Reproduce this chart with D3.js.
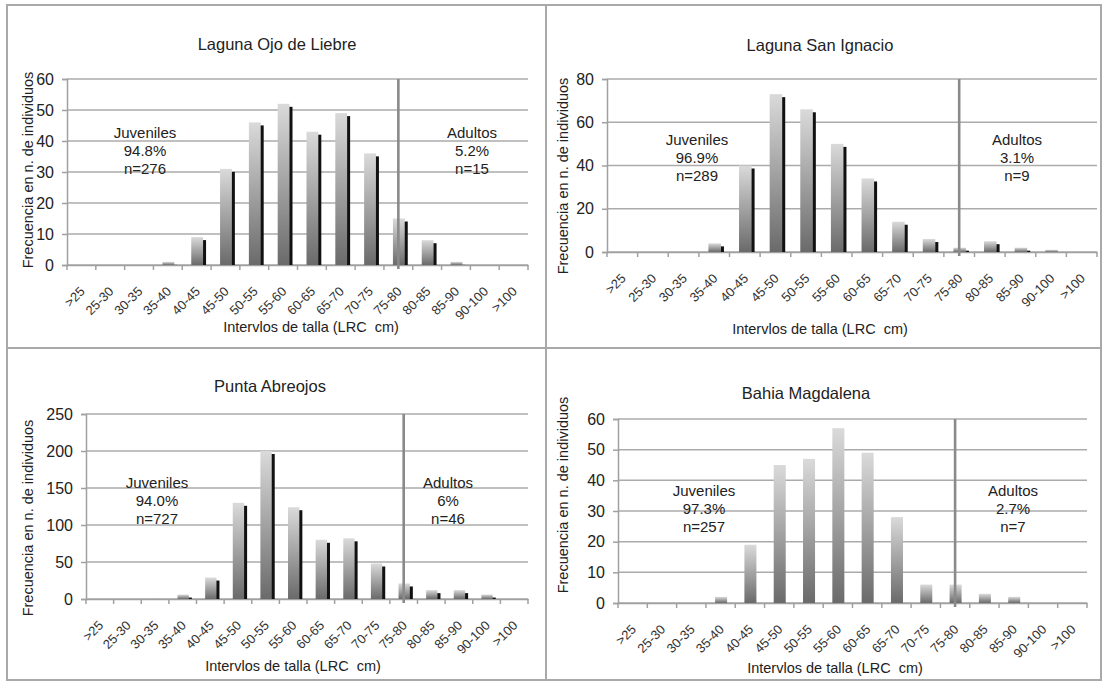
<!DOCTYPE html>
<html>
<head>
<meta charset="utf-8">
<script src="https://cdn.jsdelivr.net/npm/d3@7"></script>
<style>
  html, body { margin: 0; padding: 0; background: #fff; }
  svg { display: block; font-family: "Liberation Sans", Arial, Helvetica, sans-serif; }
</style>
</head>
<body>
<svg id="chart" width="1102" height="682"></svg>
<script>
// ---------- DATA ----------
const categories = [">25","25-30","30-35","35-40","40-45","45-50","50-55","55-60","60-65","65-70","70-75","75-80","80-85","85-90","90-100",">100"];

const ojoDeLiebre   = [0,0,0,1,9,31,46,52,43,49,36,15,8,1,0,0];
const sanIgnacio    = [0,0,0,4,40,73,66,50,34,14,6,2,5,2,1,0];
const puntaAbreojos = [0,0,1,6,29,130,200,124,80,82,48,21,12,12,6,0];
const bahiaMagdalena= [0,0,0,2,19,45,47,57,49,28,6,6,3,2,0,0];

const ticksOjo   = [0,10,20,30,40,50,60];
const ticksSan   = [0,20,40,60,80];
const ticksPunta = [0,50,100,150,200,250];
const ticksBahia = [0,10,20,30,40,50,60];

const titles = ["Laguna Ojo de Liebre","Laguna San Ignacio","Punta Abreojos","Bahia Magdalena"];
const juvenilesText = [["Juveniles","94.8%","n=276"],["Juveniles","96.9%","n=289"],["Juveniles","94.0%","n=727"],["Juveniles","97.3%","n=257"]];
const adultosText   = [["Adultos","5.2%","n=15"],["Adultos","3.1%","n=9"],["Adultos","6%","n=46"],["Adultos","2.7%","n=7"]];

const yLabel = "Frecuencia en n. de individuos";
const xLabel = "Intervlos de talla (LRC  cm)";
const cutCategory = "75-80";

// ---------- LAYOUT ----------
const panels = [
  { values: ojoDeLiebre,    ticks: ticksOjo,   x0: 67,  x1: 528,  yTop: 79,  yBot: 265, shadow: true,
    title: [277, 44], ylab: [28, 170], xlab: [311, 327], juv: [145, 133], adu: [472, 133] },
  { values: sanIgnacio,     ticks: ticksSan,   x0: 607, x1: 1097, yTop: 79,  yBot: 252, shadow: true,
    title: [820, 45], ylab: [563, 176], xlab: [820, 329], juv: [697, 140], adu: [1017, 140] },
  { values: puntaAbreojos,  ticks: ticksPunta, x0: 86,  x1: 528,  yTop: 414, yBot: 599, shadow: true,
    title: [270, 386], ylab: [28, 518], xlab: [293, 666], juv: [157, 483], adu: [448, 483] },
  { values: bahiaMagdalena, ticks: ticksBahia, x0: 618, x1: 1087, yTop: 419, yBot: 603, shadow: false,
    title: [806, 393], ylab: [563, 495], xlab: [835, 668], juv: [704, 491], adu: [1013, 491] }
];

const svg = d3.select("#chart");

// gradient for bars
const defs = svg.append("defs");
const grad = defs.append("linearGradient").attr("id", "barGrad")
  .attr("x1", 0).attr("y1", 0).attr("x2", 0).attr("y2", 1);
grad.append("stop").attr("offset", "0%").attr("stop-color", "#dadada");
grad.append("stop").attr("offset", "100%").attr("stop-color", "#6a6a6a");

// panel frame
const frameColor = "#a9a9a9";
svg.append("rect").attr("x", 7).attr("y", 5).attr("width", 1094).attr("height", 675)
  .attr("fill", "none").attr("stroke", frameColor).attr("stroke-width", 2);
svg.append("line").attr("x1", 546).attr("x2", 546).attr("y1", 5).attr("y2", 680)
  .attr("stroke", frameColor).attr("stroke-width", 2);
svg.append("line").attr("x1", 7).attr("x2", 1101).attr("y1", 348).attr("y2", 348)
  .attr("stroke", frameColor).attr("stroke-width", 2);

panels.forEach((p, i) => {
  const g = svg.append("g");
  const ymax = d3.max(p.ticks);
  const x = d3.scaleBand().domain(categories).range([p.x0, p.x1]).padding(0);
  const y = d3.scaleLinear().domain([0, ymax]).range([p.yBot, p.yTop]);
  const bw = x.step() * 0.41;

  // gridlines
  g.selectAll(".grid").data(p.ticks).join("line")
    .attr("x1", p.x0).attr("x2", p.x1)
    .attr("y1", d => y(d)).attr("y2", d => y(d))
    .attr("stroke", "#ababab").attr("stroke-width", 1.5);

  // y axis
  const yAxis = g.append("g").attr("transform", `translate(${p.x0},0)`)
    .call(d3.axisLeft(y).tickValues(p.ticks).tickSize(5).tickPadding(8).tickFormat(d3.format("d")));
  yAxis.select(".domain").attr("stroke", "#a0a0a0").attr("stroke-width", 1.5);
  yAxis.selectAll(".tick line").attr("stroke", "#a0a0a0").attr("stroke-width", 1.5);
  yAxis.selectAll("text").attr("font-size", 16).attr("fill", "#222")
    .attr("font-family", "Liberation Sans, Arial, sans-serif");

  // x axis
  const xAxis = g.append("g").attr("transform", `translate(0,${p.yBot})`)
    .call(d3.axisBottom(x).tickSize(0).tickPadding(0));
  xAxis.select(".domain").attr("stroke", "#a0a0a0").attr("stroke-width", 1.5);
  xAxis.selectAll("text")
    .attr("font-size", 13).attr("fill", "#333")
    .attr("font-family", "Liberation Sans, Arial, sans-serif")
    .attr("text-anchor", "end")
    .style("text-anchor", "end")
    .attr("y", 0)
    .attr("dy", "0.35em")
    .attr("transform", "translate(1,24) rotate(-45)");
  // boundary ticks
  const bounds = categories.map(c => x(c)).concat([p.x1]);
  g.selectAll(".btick").data(bounds).join("line")
    .attr("x1", d => d).attr("x2", d => d)
    .attr("y1", p.yBot).attr("y2", p.yBot + 5)
    .attr("stroke", "#a0a0a0").attr("stroke-width", 1.5);

  // bars
  const data = categories.map((c, k) => ({ c, v: p.values[k] })).filter(d => d.v > 0);
  const bx = d => x(d.c) + (x.step() - bw) / 2 + 0.5;
  if (p.shadow) {
    g.selectAll(".shadow").data(data).join("rect")
      .attr("x", d => bx(d) + 3)
      .attr("y", d => y(d.v) + 3)
      .attr("width", bw)
      .attr("height", d => Math.max(0, p.yBot - y(d.v) - 3))
      .attr("fill", "#111");
  }
  g.selectAll(".bar").data(data).join("rect")
    .attr("x", bx)
    .attr("y", d => y(d.v))
    .attr("width", bw)
    .attr("height", d => p.yBot - y(d.v))
    .attr("fill", "url(#barGrad)");

  // cut line
  const cx = x(cutCategory) + x.step() / 2;
  g.append("line").attr("x1", cx).attr("x2", cx)
    .attr("y1", p.yTop).attr("y2", p.yBot + 4)
    .attr("stroke", "#8a8a8a").attr("stroke-width", 2.6);

  // title
  g.append("text").attr("x", p.title[0]).attr("y", p.title[1])
    .attr("text-anchor", "middle").attr("dy", "0.35em")
    .attr("font-size", 16.5).attr("fill", "#222").text(titles[i]);

  // y label
  g.append("text").attr("transform", `translate(${p.ylab[0]},${p.ylab[1]}) rotate(-90)`)
    .attr("text-anchor", "middle").attr("dy", "0.35em")
    .attr("font-size", 14.5).attr("fill", "#222").text(yLabel);

  // x label
  g.append("text").attr("x", p.xlab[0]).attr("y", p.xlab[1])
    .attr("text-anchor", "middle").attr("dy", "0.35em")
    .style("white-space", "pre")
    .attr("font-size", 14.5).attr("fill", "#222").text(xLabel);

  // annotations
  [[p.juv, juvenilesText[i]], [p.adu, adultosText[i]]].forEach(([pos, lines]) => {
    const t = g.append("text").attr("text-anchor", "middle")
      .attr("font-size", 15).attr("fill", "#222");
    lines.forEach((ln, k) => {
      t.append("tspan").attr("x", pos[0]).attr("y", pos[1] + k * 18).attr("dy", "0.35em").text(ln);
    });
  });
});
</script>
</body>
</html>
